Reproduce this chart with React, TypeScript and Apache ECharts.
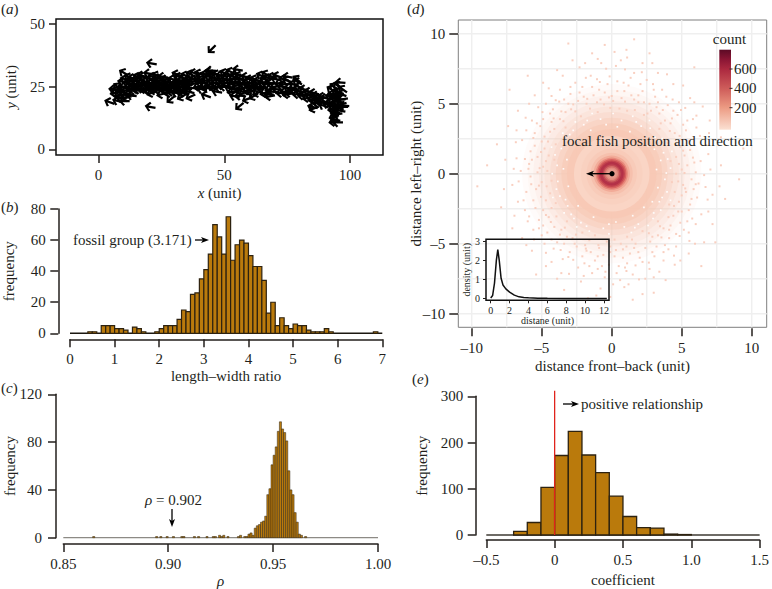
import React, { useEffect, useRef } from "react";
import * as echarts from "echarts";

const FONT = "Liberation Serif";
const INK = "#231f1c";
const BAR = "#ba7a0c";
const BAR_EDGE = "#2d2210";

// (a) fish: x, y, heading (degrees away from pointing left)
const fish = [
  [45,40,45],[21,34.3,-10],[10,30.6,-30],[4.3,18.9,-20],[7.5,19.4,-15],[10.2,19.3,0],[20.5,17,-10],[28.7,20,40],[42.6,21.5,-20],[54,21.2,-10],[56,21.4,5],[59,20,20],[61.5,21.2,30],[56,17.2,40],[55.2,31.8,-10],[78.8,28,-40],[96,26.7,-5],[19.8,30.3,-10],[89.4,17.5,-20],[85,17,-15],[85.5,16.3,20],
  [6,24,-5],[6.5,22.5,10],[7,23.5,-30],[7.5,25,-40],[8,21.5,10],[8.5,23,0],[9,20.5,-5],[9,24.5,15],[9.5,27,-10],[10,22,5],[10,25,-10],[10.5,28,-15],[11,20.8,10],[11,23.5,0],[11.5,26.5,-10],[12,22,-15],[12,25,10],[12.5,27.5,-5],[13,24,0],[13,26,-20],[13.5,28.5,-15],[14,23.5,5],[14,25.5,-10],[14.5,27.5,-10],[15,24,10],[15,26,-5],[15.5,29,-20],[16,23.8,-5],[16,25.8,10],[16.5,28,-15],[17,24.2,0],[17,26.5,-15],[17.5,29,-10],[18,24,10],[18,25.5,-5],[18.5,27,-20],[19,24,5],[19.5,26,-10],[20,23.5,-10],[20,25.5,5],[20.5,28,-15],[21,22.5,20],[21,24.5,-5],[21,26.5,-10],[21.5,29,-20],[22,23.5,10],[22,25.5,-5],[22.5,27.5,-15],[23,24.5,0],[23,26.5,-10],[23.5,28.5,-15],[24,23.5,5],[24,25.5,-10],[24.5,27.5,-5],[25,24.5,10],[25,26.5,-20],[25.5,29,-10],[26,24,0],[26,26,-15],[26.5,28,-5],[27,23.5,-5],[27,25.5,10],[27.5,27,-15],[28,22.5,15],[28,24.5,0],[28.5,26.5,-10],[29,23,10],[29,25,-10],[29.5,28,-15],
  [30,23.5,5],[30.5,25.5,-15],[31,22.5,-10],[31,27,0],[31.5,24.5,10],[32,26,-10],[32,29,-20],[32.5,23,5],[33,25,-5],[33,27.5,-15],[33.5,24,15],[34,22.5,-10],[34,26.5,0],[34.5,29.5,-20],[35,24,5],[35,27.5,-10],[35.5,25.5,15],[36,23,-15],[36,28,-5],[36.5,26,10],[36.5,30,-25],[37,24.5,-5],[37,27,5],[38,30.5,-15],
  [39.5,25,10],[39.5,28,-10],[40,30.3,-20],[40.5,26.5,0],[41,24,-10],[41,29,5],[41.5,27,-15],[42,25,10],[42.5,30,-20],[43,27.5,0],[43,24.5,-5],[44,26,15],[44,29,-10],[44.5,31.5,-5],[45,25,-15],[45,27.5,5],[45.5,30,0],[46,24.5,10],[46,28.5,-10],[46.5,26.5,-5],[47,30,-20],[47.5,25,5],[48,27.5,-10],[48.5,29.5,5],[49,25.5,-5],[49.5,27.5,10],[50,30.5,-25],[50,25,0],[50.5,28,-15],[51,26.5,5],[51.5,30,-10],[52,24.5,-15],[52,28,5],[52.5,31,-25],[53,26,10],[53.5,29,-10],[54,24,-20],[54,27,0],[54.5,30,-5],[55,25.5,15],[55.5,28,-10],[56,23.5,25],[56,29.5,-15],[56.5,26.5,5],[57,24.5,10],[57,28,-10],[57.5,22.5,30],[58,25.8,-5],[58.5,29,-15],[59,23.5,15],[59,26.5,-5],[60,25,0],[60,28,-20],[60.5,23,20],
  [61,26.5,5],[61.5,24.5,-10],[62,28,-25],[62.5,26,5],[63,24.5,10],[63.5,27.5,-15],[64,25,-5],[64.5,29.5,-25],[65,26.5,0],[65,24.2,10],[66,28,-15],[66.5,30,-30],[67,26,5],[67.5,22,-5],[67.5,28.5,-10],[68,24,15],[68,21.2,10],[68.5,26.5,-10],[69,29,-20],[69.5,23,-5],[70,25,5],[70.5,28,-15],[71,29.3,-20],[71,24,-5],[72,26.5,10],[72.5,22.5,5],[73,25,-10],[73.5,28,-15],[74,23,-5],[74,26,5],[75,22,10],[75,27.5,-20],[75.5,24.5,-5],[76,22.5,0],[77,24,5],[77.5,26,-15],[78,23.5,-10],[79,22,5],[79.5,25,-20],[80,23,-5],[81,21.5,5],[81.5,24,-15],[82,22,0],[83,20.5,10],[83.5,23,-15],[84,21.5,-5],[85,20,10],[85.5,22.5,-15],[86,19.5,5],[86.5,21.5,-10],[87,18.5,10],[87.5,20.5,-5],[88,19,5],[89,21,-15],[90,20.5,-5],[91,18,-15],
  [92,21,-20],[92.5,24,-30],[93,19,20],[93,22,-10],[93,16,10],[93.5,25,-40],[93.5,13,15],[93.5,11,10],[94,18,-20],[94,14.5,0],[94,20.5,10],[94,12,-15],[94.5,23,-20],[94.5,16,15],[95,25.5,-40],[95,10.8,0],[95,19,-10],[95,21.5,5],[95.5,17,10],[95.5,23,-25],[96,20,0],[96,15.5,-10],[96.5,18,15],[96.5,22,-20],[97,17,0],[97,20,10],[97.5,17.5,-5],[97,24,-35],[92,18.5,0],[93.2,17.5,-15],[94.8,14,10],[93.6,21,-5],
  [13,21.5,-5],[25,22,15],[33,21,30],[36.5,21,25],[47,23,-10],[63,22.5,20],[75,29,-10],[12,28.8,-25],[38,28,-20],[53,23,10],[79,27,-30],[66,22.5,15],[44,31,-15],[17,29.5,-15],[23,29.5,-25],[31,30,-20]
];

const lengthRatioCounts = [0,0,0,0,1,1,0,5,5,5,3,3,2,0,4,3,1,0,0,1,3,5,5,5,9,15,14,25,26,35,41,51,70,62,51,75,47,57,60,58,50,43,43,34,13,20,5,10,5,3,6,5,5,2,1,1,1,3,1,0,0,0,0,0,0,0,0,0,1,0];
const lengthRatioTicks = [0,1,2,3,4,5,6,7];
const lengthRatioFreqTicks = [0,20,40,60,80];

// (c) [bin start, count]; all other bins are empty
const rhoBins = [[0.864,1],[0.894,1],[0.896,1],[0.899,1],[0.902,1],[0.906,1],[0.907,1],[0.912,1],[0.914,1],[0.918,1],[0.921,1],[0.922,1],[0.924,2],[0.925,1],[0.926,2],[0.928,1],[0.933,1],[0.934,2],[0.936,1],[0.937,1],[0.938,3],[0.939,4],[0.94,2],[0.941,8],[0.942,10],[0.943,11],[0.944,13],[0.945,14],[0.946,18],[0.947,36],[0.948,41],[0.949,61],[0.95,69],[0.951,76],[0.952,89],[0.953,97],[0.954,91],[0.955,88],[0.956,81],[0.957,56],[0.958,40],[0.959,36],[0.96,21],[0.961,13],[0.962,3],[0.963,2],[0.965,1]];
const rhoTicks = [0.85,0.9,0.95,1];
const rhoFreqTicks = [0,40,80,120];

// (d) neighbour density, outermost ring first
const ringRadii = [6.4,6,5.6,5.2,4.8,4.4,4,3.6,3.2,2.7,2.2,1.8,1.5,1.3,1.15,1.05,0.95,0.85,0.75,0.65,0.55,0.45,0.35];
const ringColors = ["rgba(248,200,180,0.07)","rgba(248,200,180,0.08)","rgba(248,200,180,0.1)","rgba(248,200,180,0.13)","rgba(248,200,180,0.17)","rgba(248,200,180,0.25)","rgba(248,200,180,0.38)","rgba(248,200,180,0.55)","rgba(248,200,180,0.7)","#fad5c5","#f9d1c0","#f8cbb9","#f6c0ad","#f2ab98","#e88a7c","#d8625f","#c4454f","#b43147","#b43349","#c24a53","#d56e68","#e38c7f","#e89a8c"];
const sparseNeighbours = [
  [5.6,-2.2],[-5.8,1.6],[5.9,0.8],[-6.1,-1.3],[6.2,-0.7],[-5.5,2.9],[5.3,3.1],[-5.2,-3.3],[5.4,-3.4],[-4.9,3.9],[4.7,4.2],[-4.6,-4.2],[4.6,-4.3],[-4.2,4.6],[4,4.9],[-3.9,-4.9],[3.8,-5.1],[-3.4,5.3],[3.1,5.5],[-3,-5.6],[2.9,-5.6],[-2.3,5.8],[2.2,5.9],[-2.1,-5.9],[2,-6],[-1.4,6.2],[1.2,6.3],[-1.2,-6.2],[1.1,-6.4],[-0.3,6.4],[0.4,6.6],[-0.2,-6.5],[0.5,-6.6],[-6.5,0.2],[6.6,-0.1],[-6.8,1.1],[6.9,1.4],[-7.1,-0.8],[7.2,-1.5],[-6.4,2.4],[6.3,2.7],[-6.2,-2.6],[6.4,-2.9],[-5.7,3.8],[5.8,3.9],[-5.6,-4],[5.5,-4.2],[-4.7,5],[4.8,5.1],[-4.8,-5],[4.6,-5.2],[-3.7,6],[3.6,6],[-3.5,-6.1],[3.7,-6.2],[-2.6,6.5],[2.5,6.7],[-2.4,-6.7],[2.7,-6.8],[-1.5,7],[1.6,7.2],[-1.4,-7.1],[1.5,-7.2],[-0.4,7.5],[0.3,7.7],[-0.5,-7.4],[0.6,-7.6],
  [-4.9,0.5],[-5,-0.6],[5,0.3],[5.1,-0.8],[-4.8,1.8],[4.9,1.9],[-4.7,-1.9],[4.8,-2],[-4.4,3],[4.5,2.9],[-4.5,-3.1],[4.4,-3],[-3.7,3.9],[3.8,3.8],[-3.6,-4],[3.7,-3.9],[-2.9,4.6],[2.8,4.5],[-2.8,-4.6],[2.9,-4.5],[-1.8,5],[1.9,5.1],[-1.9,-5.1],[1.7,-5],[-0.8,5.3],[0.7,5.4],[-0.9,-5.3],[0.8,-5.4],[0.1,5.2],[-0.1,-5.2],
  [-5.3,0.1],[5.4,0.6],[-5.3,1.2],[5.2,1.3],[-5.4,-1.1],[5.3,-1.3],[-5,2.3],[5,2.4],[-4.9,-2.6],[5,-2.7],[-4.3,3.7],[4.2,3.6],[-4.1,-3.8],[4.2,-3.7],[-3.3,4.4],[3.4,4.3],[-3.2,-4.5],[3.3,-4.4],[-2.4,5.2],[2.3,5.1],[-2.5,-5.2],[2.4,-5.3],[-1.3,5.6],[1.4,5.6],[-1.5,-5.6],[1.3,-5.7],[-0.5,5.8],[0.4,5.9],[-0.6,-5.8],[0.2,-5.9],
  [-5.8,-0.2],[5.7,-0.4],[-5.9,0.7],[6,0.1],[-5.6,-1.9],[5.7,-1.8],[-5.5,2],[5.6,1.7],[-5.1,3.4],[5.1,3.5],[-4.9,-3.7],[4.9,-3.5],[-4.4,4.3],[4.4,4.5],[-4.3,-4.7],[4.1,-4.6],[-3.1,5],[3.3,5.1],[-3.4,-5],[3.2,-5.2],[-2,5.5],[1.9,5.6],[-1.8,-5.5],[1.9,-5.6],[-0.9,6],[0.9,5.9],[-1,-5.9],[0.8,-6],
  [-8.2,2.1],[8.1,-1.8],[-7.9,-2.4],[7.8,2.6],[-7.4,3.4],[7.2,-3.6],[-7.1,-3.9],[7,3.8],[-6.7,4.5],[6.5,4.8],[-6.4,-4.6],[6.6,-4.9],[-5.5,5.6],[5.6,5.4],[-5.7,-5.5],[5.5,-5.7],[-4.5,6.1],[4.4,6.4],[-4.3,-6.3],[4.5,-6.5],[-3.5,7],[3.3,7.2],[-3.6,-7.1],[3.4,-7],[-2.3,7.6],[2.2,7.9],[-2.2,-7.7],[2.4,-7.5],[-1,8.2],[1.1,8.3],[-0.8,-8.2],[0.9,-8.1],[0.2,8.7],[-0.5,9.2],[1.6,9.6],[-2.8,8.1],[2.7,8.6],[-3.1,9.3],[-0.1,-8.8],[-1.7,-8.9],[1.5,-9],[-8.9,0.6],[9.1,-0.4],[-9.6,-0.9],[7.4,-4.9],[-6,7],[5.9,7.6],[6.4,-6.6],[-5.4,-7.2],[9.4,1.8],[-7.3,6],[3,-8.5],[-3.4,-8.3],
  [-4.1,1],[-4.3,-0.5],[4.2,0.9],[4.3,-0.6],[-4,2.1],[4,2.2],[-4,-2.1],[4.1,-2.2],[-3.3,3.3],[3.4,3.2],[-3.2,-3.4],[3.3,-3.4],[-2.2,4.1],[2.3,4.2],[-2.1,-4.2],[2.2,-4.1],[-1,4.4],[1.1,4.5],[-1.2,-4.4],[1.1,-4.5],[-0.1,4.7],[0.2,-4.7],[-4.6,0.2],[4.6,0],[-4.5,1.3],[4.6,1.2],[-4.4,-1.4],[4.5,-1.3],
  [-4.7,0.9],[4.8,0.7],[-4.65,-0.9],[4.75,-0.55],[-4.55,2.3],[4.6,2.15],[-4.3,-2.45],[4.45,-2.3],[-4.1,3.2],[4.15,3.05],[-3.95,-3.05],[4.05,-3.1],[-3.45,3.75],[3.5,3.6],[-3.35,-3.85],[3.45,-3.75],[-2.6,4.45],[2.55,4.3],[-2.55,-4.35],[2.65,-4.25],[-1.55,4.65],[1.65,4.55],[-1.6,-4.75],[1.45,-4.7],[-0.55,4.95],[0.55,4.65],[-0.35,-4.85],[0.65,-5],
  [-5.15,0.4],[5.2,0.05],[-5.2,-0.85],[5.25,-1.05],[-5.05,1.55],[5.1,1.65],[-5.05,-1.65],[5,-1.55],[-4.8,2.65],[4.85,2.7],[-4.7,-2.95],[4.75,-2.7],[-4.15,3.95],[4.3,3.95],[-4.35,-3.45],[4.1,-4],[-3.6,4.45],[3.65,4.55],[-3.7,-4.35],[3.55,-4.55],[-2.75,4.95],[2.7,5],[-2.65,-5],[2.75,-4.85],[-1.75,5.35],[1.6,5.3],[-1.85,-5.35],[1.6,-5.3],[-1.05,5.1],[0.95,5.15],[-0.95,-5.1],[1.05,-5.2],[0,5.55],[-0.2,5.45],[0.3,-5.45],[-0.1,-5.6],
  [-5.95,0.35],[5.8,1.15],[-5.75,-0.75],[6,-0.75],[-5.7,1],[5.85,-1.1],[-5.6,2.55],[5.55,2.35],[-5.45,-2.45],[5.5,-2.6],[-5.35,3.6],[5.4,3.8],[-5.2,-3.9],[5.15,-4],[-4.95,4.4],[4.95,4.55],[-5,-4.4],[4.85,-4.45],[-4,5.25],[3.9,5.5],[-4.15,-5.35],[4.05,-5.4],[-2.95,5.7],[3,6],[-3.1,-5.95],[3.05,-5.9],[-2.1,6.2],[2.05,6.4],[-1.95,-6.4],[2.2,-6.3],[-0.85,6.55],[0.85,6.5],[-0.7,-6.6],[0.95,-6.7],[-6.2,1.05],[6.35,0.9],[-6.3,-1.9],[6.1,-1.7],[-6.1,3.1],[6.05,3.3],[-6,-3.4],[6,-3.6],
  [-0.75,7.9],[-1.9,7.9],[1.05,8.85],[-1.4,8.6],[0.65,8.1],[2.9,7.9],[-3.9,7.4],[3.95,7.1],[-4.9,6.5],[5.1,6.3],[-5.9,5],[5.9,5.1],[-6.8,3.1],[6.95,2.9],[-7.6,1],[7.8,0.6],[-7.7,-1.1],[7.7,-0.9],[-6.95,-3],[6.9,-2.7],[-6.1,-5.1],[5.95,-5],[-4.7,-6.6],[4.9,-6.2],[-3.9,-7.5],[3.85,-7.6],[-1.1,-8.7],[1.2,-7.9],[0.1,-7.9],[2.2,-8.6],
  [1.35,6.85],[-1.05,6.75],[2.95,6.4],[-2.95,6.2],[-0.15,6.95],[0.95,7.45],[-1.85,6.85],[2.15,7.25],[3.2,4.75],[-3.75,5.15],[4.35,5.3],[-4.3,5.55],[5.25,4.7],[-5.25,4.75],[6.05,4.15],[-6.15,4],[6.75,2.05],[-6.85,2.25],[-7,0.35],[7.05,0.3],[-6.65,-0.55],[6.7,-0.95],[-6.7,-2],[6.85,-1.85],[-5.9,-3.05],[5.75,-3.2],[-5.55,-4.7],[5.55,-4.8],[-4.7,-5.65],[4.45,-5.85],[-3.65,-5.45],[3.7,-5.6],[-2.75,-6.15],[2.65,-6.35],[-1.6,-6.6],[1.7,-6.55],[-0.45,-7],[0.35,-7.1],[-3.05,-7.15],[3,-7.4],[-2,-7.3],[1.95,-7.55],[1.05,-6.95],[-1,-6.8]
];
const whiteSpecks = [
  [-3.9,0.6],[3.8,-0.4],[-3.6,1.8],[3.7,1.5],[-3.7,-1.6],[3.6,-1.7],[-3,2.8],[3.1,2.6],[-2.9,-2.9],[3,-2.8],[-2,3.5],[2.1,3.4],[-2.2,-3.5],[1.9,-3.6],[-0.8,3.9],[0.7,3.8],[-0.6,-3.9],[0.9,-3.8],[-4.3,1.9],[4.3,1.6],[-4.2,-1.7],[4.2,-1.9],[-3.5,2.9],[3.6,2.5],[-3.4,-2.8],[3.5,-2.6],[-2.6,3.7],[2.7,3.8],[-2.5,-3.8],[2.6,-3.7],[-1.4,4.3],[1.5,4.1],[-1.6,-4.1],[1.4,-4.2],[0.1,4.3],[-0.2,-4.3],[-4.25,0],[4.2,0.4],[-3.2,1],[3.2,0.3],[-3.1,-0.9],[3.3,-1],[-2.5,2.4],[2.6,2],[-2.4,-2.3],[2.3,-2.4],[-1.5,3.1],[1.3,3],[-1.3,-3.1],[1.5,-3],
  [-3.45,0.35],[3.5,0.95],[-3.3,-1.85],[3.4,-2],[-2.75,3.1],[2.75,3.25],[-2.7,-3.2],[2.95,-3.2],[-1.75,3.8],[1.75,3.7],[-1.8,-3.75],[1.65,-3.85],[-0.4,3.5],[0.4,3.35],[-0.2,-3.6],[0.3,-3.45],[-3.85,-0.55],[3.9,0.05],[-4.05,1.35],[4,1.05],[-3.95,-1.1],[3.95,-1.3],[-3.1,2.15],[3.05,1.75],[-3.15,-2.3],[2.9,-2]
];
const gridLineValues = [-10,-7.5,-5,-2.5,0,2.5,5,7.5,10];
const distanceTicks = [-10,-5,0,5,10];

const insetDistance = [0,0.2,0.4,0.6,0.75,0.9,1.1,1.3,1.6,2,2.5,3,3.5,4,5,6,8,12.3];
const insetDensity = [0.02,0.15,0.8,2,2.55,2,1.05,0.7,0.5,0.33,0.17,0.08,0.05,0.03,0.01,0.005,0,0];
const insetXTicks = [0,2,4,6,8,10,12];
const insetYTicks = [0,1,2,3];

const colourBarLabels = ["600","400","200"];

// (e)
const coefficientBins = [[-0.3,8],[-0.2,27],[-0.1,103],[0,172],[0.1,224],[0.2,173],[0.3,135],[0.4,84],[0.5,40],[0.6,16],[0.7,15],[0.8,2],[0.9,1]];
const coefficientTicks = [-0.5,0,0.5,1,1.5];
const coefficientFreqTicks = [0,100,200,300];

const SIZE = 15;
const text = { fontFamily: FONT, color: INK };
const rich = { i: { fontStyle: "italic", fontFamily: FONT, fontSize: SIZE, color: INK } };
const ARROW = "path://M0,5 L4.2,0.2 L5.8,1.6 L3.4,3.9 L10,3.9 L10,6.1 L3.4,6.1 L5.8,8.4 L4.2,9.8 Z";

function hist(idx: number, width: number, bins: number[][], lw: number) {
  return {
    type: "custom", xAxisIndex: idx, yAxisIndex: idx, z: 3, clip: false,
    data: bins.map(([s, c]) => [s, s + width, c]),
    encode: { x: [0, 1], y: 2 },
    renderItem: (_: any, api: any) => {
      const a = api.coord([api.value(0), 0]);
      const b = api.coord([api.value(1), api.value(2)]);
      return { type: "rect", shape: { x: a[0], y: b[1], width: b[0] - a[0], height: a[1] - b[1] },
        style: { fill: BAR, stroke: BAR_EDGE, lineWidth: lw } };
    },
  };
}
function baseline(idx: number, from: number, to: number, color: string, width: number) {
  return { type: "line", xAxisIndex: idx, yAxisIndex: idx, z: 2, symbol: "none", silent: true,
    data: [[from, 0], [to, 0]], lineStyle: { color, width } };
}
function xAxis(grid: number, min: number, max: number, ticks: number[], o: any) {
  const { fmt, size = SIZE, tick = 8, lw = 1.5, line = true, margin = 12, ...rest } = o;
  return { type: "value", gridIndex: grid, min, max, nameLocation: "middle", nameMoveOverlap: false, splitLine: { show: false },
    axisLine: { show: line, onZero: false, lineStyle: { color: INK, width: lw } },
    axisTick: { show: true, length: tick, customValues: ticks, lineStyle: { color: INK, width: lw } },
    axisLabel: { customValues: ticks, formatter: fmt, fontFamily: FONT, fontSize: size, color: INK, margin },
    nameTextStyle: { fontFamily: FONT, fontSize: size, color: INK, rich }, ...rest };
}
const yAxis = xAxis;

function textEl(x: number, y: number, t: string, align = "left", size = SIZE) {
  return { type: "text", x, y, z: 50, style: { text: t, fontFamily: FONT, fontSize: size, fill: INK, align, verticalAlign: "middle", rich } };
}
function arrowEl(x1: number, y1: number, x2: number, y2: number) {
  const dx = Math.sign(x2 - x1), dy = Math.sign(y2 - y1);
  const px = -dy, py = dx;
  return [
    { type: "line", z: 50, shape: { x1, y1, x2: x2 - dx * 4, y2: y2 - dy * 4 }, style: { stroke: "#000", lineWidth: 1.3 } },
    { type: "polygon", z: 50, shape: { points: [[x2, y2], [x2 - dx * 8 + px * 3, y2 - dy * 8 + py * 3], [x2 - dx * 6, y2 - dy * 6], [x2 - dx * 8 - px * 3, y2 - dy * 8 - py * 3]] }, style: { fill: "#000" } },
  ];
}

const option: any = {
  animation: false,
  textStyle: text,
  grid: [
    { left: 56, top: 19, width: 327, height: 136, show: true, borderColor: "#111", borderWidth: 1.5, backgroundColor: "#fff" },
    { left: 70, top: 209, width: 312.3, height: 124.3 },
    { left: 63.3, top: 394.3, width: 314.7, height: 144.7 },
    { left: 458.3, top: 20, width: 308.4, height: 307.3, show: true, borderColor: "#7f7f7f", borderWidth: 1, backgroundColor: "#fff" },
    { left: 486, top: 239.3, width: 123, height: 61, show: true, borderColor: "#111", borderWidth: 1.5, z: 6 },
    { left: 486.3, top: 396.3, width: 276.7, height: 138.7 },
  ],
  xAxis: [
    xAxis(0, -16.9, 113.1, [0, 50, 100], { line: false, name: "{i|x} (unit)", nameGap: 30 }),
    xAxis(1, 0, 7, lengthRatioTicks, { offset: 6, name: "length–width ratio", nameGap: 29.5 }),
    xAxis(2, 0.85, 1, rhoTicks, { offset: 6.3, name: "{i|ρ}", nameGap: 29, fmt: (v: number) => v.toFixed(2) }),
    xAxis(3, -10.96, 11.07, distanceTicks, { line: false, offset: 1, name: "distance front–back (unit)", nameGap: 30, fmt: (v: number) => String(v).replace("-", "–") }),
    { ...xAxis(4, -0.5, 12.53, insetXTicks, { line: false, size: 10, tick: 3, lw: 1, margin: 5, name: "distane (unit)", nameGap: 15.5 }), z: 6 },
    xAxis(5, -0.5, 1.5, coefficientTicks, { offset: 5, name: "coefficient", nameGap: 32, fmt: (v: number) => (v === 0 ? "0" : v.toFixed(1).replace("-", "–")) }),
  ],
  yAxis: [
    yAxis(0, -2.2, 52, [0, 25, 50], { line: false, tick: 7, margin: 11, name: "{i|y} (unit)", nameGap: 37.5 }),
    yAxis(1, 0, 80, lengthRatioFreqTicks, { offset: 11.7, margin: 12.5, name: "frequency", nameGap: 42 }),
    yAxis(2, 0, 120, rhoFreqTicks, { offset: 7.3, margin: 14, name: "frequency", nameGap: 39 }),
    yAxis(3, -10.97, 10.98, distanceTicks, { line: false, tick: 9, margin: 13, name: "distance left–right (unit)", nameGap: 35, fmt: (v: number) => String(v).replace("-", "–") }),
    { ...yAxis(4, -0.1, 3.09, insetYTicks, { line: false, size: 10, tick: 3, lw: 1, margin: 6, name: "density (unit)", nameGap: 14.5 }), z: 6 },
    yAxis(5, 0, 300, coefficientFreqTicks, { offset: 10.6, margin: 12.5, name: "frequency", nameGap: 46 }),
  ],
  series: [
    { type: "scatter", xAxisIndex: 0, yAxisIndex: 0, data: fish, symbol: ARROW, symbolSize: [11, 10], encode: { x: 0, y: 1 },
      symbolRotate: (v: number[]) => v[2], itemStyle: { color: "#000", opacity: 1 } },

    baseline(1, 0, 7, "#1b1710", 1.6),
    hist(1, 0.1, lengthRatioCounts.map((c, i) => [i / 10, c]).filter((b) => b[1] > 0), 1.2),

    baseline(2, 0.85, 1, "#8d8a85", 1.6),
    hist(2, 0.001, rhoBins, 0.5),

    { type: "custom", xAxisIndex: 3, yAxisIndex: 3, z: 1, data: gridLineValues.map((v) => [v, v]), encode: { x: 0, y: 1 },
      renderItem: (_: any, api: any) => {
        const v = api.value(0);
        const a = api.coord([v, -10.97]), b = api.coord([v, 10.98]);
        const c = api.coord([-10.96, v]), d = api.coord([11.07, v]);
        const style = { stroke: "#efefef", lineWidth: 1.4 };
        return { type: "group", children: [
          { type: "line", shape: { x1: a[0], y1: a[1], x2: b[0], y2: b[1] }, style },
          { type: "line", shape: { x1: c[0], y1: c[1], x2: d[0], y2: d[1] }, style },
        ] };
      } },
    { type: "custom", xAxisIndex: 3, yAxisIndex: 3, z: 2, data: ringRadii.map((r) => [0, 0, r]), encode: { x: 0, y: 1 },
      renderItem: (p: any, api: any) => {
        const c = api.coord([0, 0]);
        const s = api.size([api.value(2), api.value(2)]);
        return { type: "circle", shape: { cx: c[0], cy: c[1], r: s[0] }, style: { fill: ringColors[p.dataIndex] } };
      } },
    { type: "scatter", xAxisIndex: 3, yAxisIndex: 3, z: 3, data: sparseNeighbours, symbol: "rect", symbolSize: 2, itemStyle: { color: "#f9cfc0", opacity: 1 } },
    { type: "scatter", xAxisIndex: 3, yAxisIndex: 3, z: 3, data: whiteSpecks, symbol: "rect", symbolSize: 1.7, itemStyle: { color: "#fff", opacity: 0.9 } },
    { type: "line", xAxisIndex: 4, yAxisIndex: 4, z: 8, symbol: "none", data: insetDistance.map((d, i) => [d, insetDensity[i]]), lineStyle: { color: "#111", width: 1.5 } },

    baseline(5, -0.5, 1.5, "#6e6b66", 2),
    hist(5, 0.1, coefficientBins, 1.3),
    { type: "line", xAxisIndex: 5, yAxisIndex: 5, z: 9, symbol: "none", clip: false, data: [[0, 0], [0, 312]], lineStyle: { color: "#e0231c", width: 1.3 } },
  ],
  graphic: [
    textEl(1, 9, "({i|a})"), textEl(1, 207, "({i|b})"), textEl(1, 388, "({i|c})"),
    textEl(407, 9, "({i|d})"), textEl(412, 379, "({i|e})"),
    textEl(73, 240, "fossil group (3.171)"), ...arrowEl(195, 240, 209, 240),
    textEl(145, 500, "{i|ρ} = 0.902"), ...arrowEl(172, 509, 172, 527),
    textEl(562, 141, "focal fish position and direction"),
    ...arrowEl(612, 173.7, 586, 173.7),
    { type: "circle", z: 50, shape: { cx: 612, cy: 173.7, r: 2.6 }, style: { fill: "#000" } },
    textEl(581, 404, "positive relationship"), ...arrowEl(563, 404, 579, 404),
    textEl(729.5, 39, "count", "center"),
    { type: "rect", z: 50, shape: { x: 719.3, y: 49.7, width: 11.7, height: 80 },
      style: { fill: new echarts.graphic.LinearGradient(0, 0, 0, 1, [
        { offset: 0, color: "#5c0a25" }, { offset: 0.12, color: "#8a1534" }, { offset: 0.25, color: "#ad2a40" },
        { offset: 0.5, color: "#d0605c" }, { offset: 0.72, color: "#ec9a82" }, { offset: 1, color: "#fbe0d2" },
      ]) } },
    ...colourBarLabels.flatMap((t, i) => [
      { type: "line", z: 51, shape: { x1: 729.5, y1: 69 + i * 19.35, x2: 732.5, y2: 69 + i * 19.35 }, style: { stroke: "#3a2a2a", lineWidth: 1 } },
      textEl(734, 69 + i * 19.35, t),
    ]),
  ],
};

export default function App() {
  const ref = useRef<HTMLDivElement>(null);
  useEffect(() => {
    const chart = echarts.init(ref.current!, undefined, { renderer: "svg" });
    chart.setOption(option);
    return () => chart.dispose();
  }, []);
  return <div ref={ref} style={{ position: "fixed", left: 0, top: 0, width: 772, height: 589, background: "#fff" }} />;
}
